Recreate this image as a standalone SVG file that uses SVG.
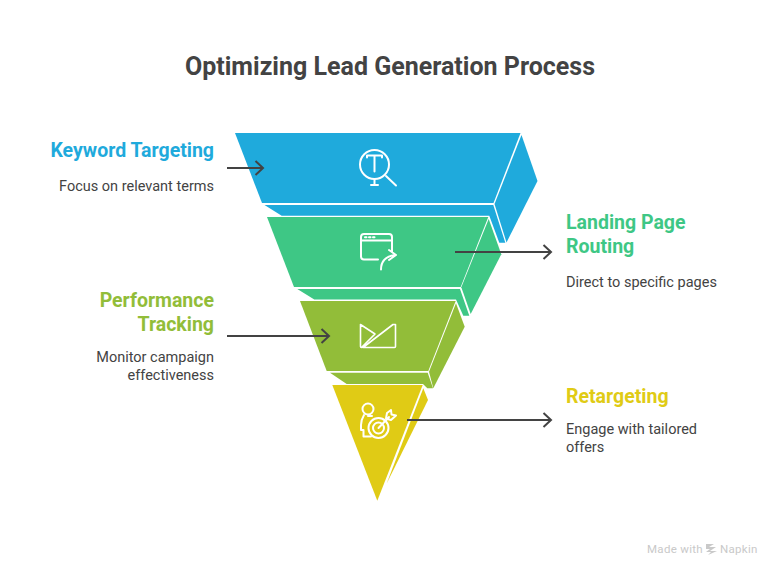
<svg xmlns="http://www.w3.org/2000/svg" width="780" height="576" viewBox="0 0 780 576">
<defs>
<marker id="arrow" markerUnits="userSpaceOnUse" markerWidth="14" markerHeight="20" refX="10.5" refY="8" orient="auto" viewBox="0 0 14 16"><path d="M3 1 L10.5 8 L3 15" fill="none" stroke="#434343" stroke-width="2"/></marker>
</defs>
<style>
text{font-family:Roboto,"Liberation Sans",sans-serif}
.title{font-size:25px;font-weight:700;fill:#434343}
.h{font-size:19.5px;font-weight:700}
.b{font-size:14.5px;fill:#434343}
.i{fill:none;stroke:#fff;stroke-width:2;stroke-linecap:round;stroke-linejoin:round}
.c{fill:none;stroke:#434343;stroke-width:2;marker-end:url(#arrow)}
</style>
<rect width="780" height="576" fill="#fff"/>
<text class="title" x="390" y="75" text-anchor="middle">Optimizing Lead Generation Process</text>
<g id="node-keyword">
<path fill="#1faadc" d="M235 133H520.500L493.500 203H262Z"/>
<path fill="#1faadc" d="M521.500 135L537.500 181L506.500 242.500L494.500 204Z"/>
<path fill="#1faadc" d="M264.500 205H493.300L505.300 242.700H499.300L489.300 215.700H281.700Z"/>
<g class="i"><circle cx="374.500" cy="164.500" r="14.500"/><path d="M367 157.500V155.500H382V157.500M374.500 155.500V171.500M374.500 179V185M371 185H378M386 176L396 185.500"/></g>
<text class="h" x="214" y="157" text-anchor="end" fill="#1faadc">Keyword Targeting</text>
<text class="b" x="214" y="191" text-anchor="end">Focus on relevant terms</text>
</g>
<g id="node-landing">
<path fill="#3ec785" d="M267 217H488.300L460.700 287H294Z"/>
<path fill="#3ec785" d="M488.700 219L501.300 254.300L470.700 314L461.300 287.300Z"/>
<path fill="#3ec785" d="M297.300 289H460L469.300 315.700H463.300L456 299.500H314.300Z"/>
<g class="i"><path d="M378 259.500H364Q361 259.500 361 256.500V237Q361 234 364 234H389Q392 234 392 237V252M361 240.500H392M381 269.500Q381 257 395 255M389 250L396 255L389 260"/><path d="M365 237.300h1.500M369 237.300h1.500M373 237.300h1.500"/></g>
<text class="h" x="566" y="229" fill="#3ec785">Landing Page</text>
<text class="h" x="566" y="253" fill="#3ec785">Routing</text>
<text class="b" x="566" y="287">Direct to specific pages</text>
</g>
<g id="node-performance">
<path fill="#92bd39" d="M300 301H455.700L428.300 371H326.700Z"/>
<path fill="#92bd39" d="M456 303.300L464.700 326.700L433.300 388.300L429 371.700Z"/>
<path fill="#92bd39" d="M330 372.700H427.700L433 388.300H427.300L423 384H346.700Z"/>
<g class="i" stroke-width="1.500"><path d="M360.500 325V346.500Q360.500 347.500 361.500 347.500L375 334L360.500 324.500ZM363 347.500H394.500Q395.500 347.500 395.500 346.500V324.500L393 324.500Z" style="stroke-width:1.600"/></g>
<text class="h" x="214" y="307" text-anchor="end" fill="#92bd39">Performance</text>
<text class="h" x="214" y="331" text-anchor="end" fill="#92bd39">Tracking</text>
<text class="b" x="214" y="362" text-anchor="end">Monitor campaign</text>
<text class="b" x="214" y="380" text-anchor="end">effectiveness</text>
</g>
<g id="node-retargeting">
<path fill="#e0cb15" d="M332.300 385H422.700L377.300 500.700Z"/>
<path fill="#e0cb15" d="M423.300 388.300L428 400L386.700 483.500Z"/>
<g class="i"><circle cx="368" cy="409" r="5.500"/><path d="M364 415Q361 420 361 425V430H363.500V436.500H371M372 416H368"/><circle cx="378.500" cy="428" r="10"/><circle cx="378.500" cy="428" r="5.500"/><path d="M378.500 428L389 417M387 413L386 418.500L391 420L396 415.500L391.500 414.500L391 410Z"/></g>
<text class="h" x="566" y="403" fill="#e0cb15">Retargeting</text>
<text class="b" x="566" y="434">Engage with tailored</text>
<text class="b" x="566" y="452">offers</text>
</g>
<g id="connectors">
<path class="c" d="M227 168H263"/>
<path class="c" d="M455 252H551"/>
<path class="c" d="M227 336H329"/>
<path class="c" d="M407 420H551"/>
</g>
<g id="watermark" fill="#c9c9c9">
<text x="647" y="553" font-size="11.500" letter-spacing=".3">Made with</text>
<path d="M706 544H714L709 547H716L710 551H717L708 555L711 552H706L710 549H706Z"/>
<text x="720" y="553" font-size="11.500" letter-spacing=".3">Napkin</text>
</g>
</svg>
